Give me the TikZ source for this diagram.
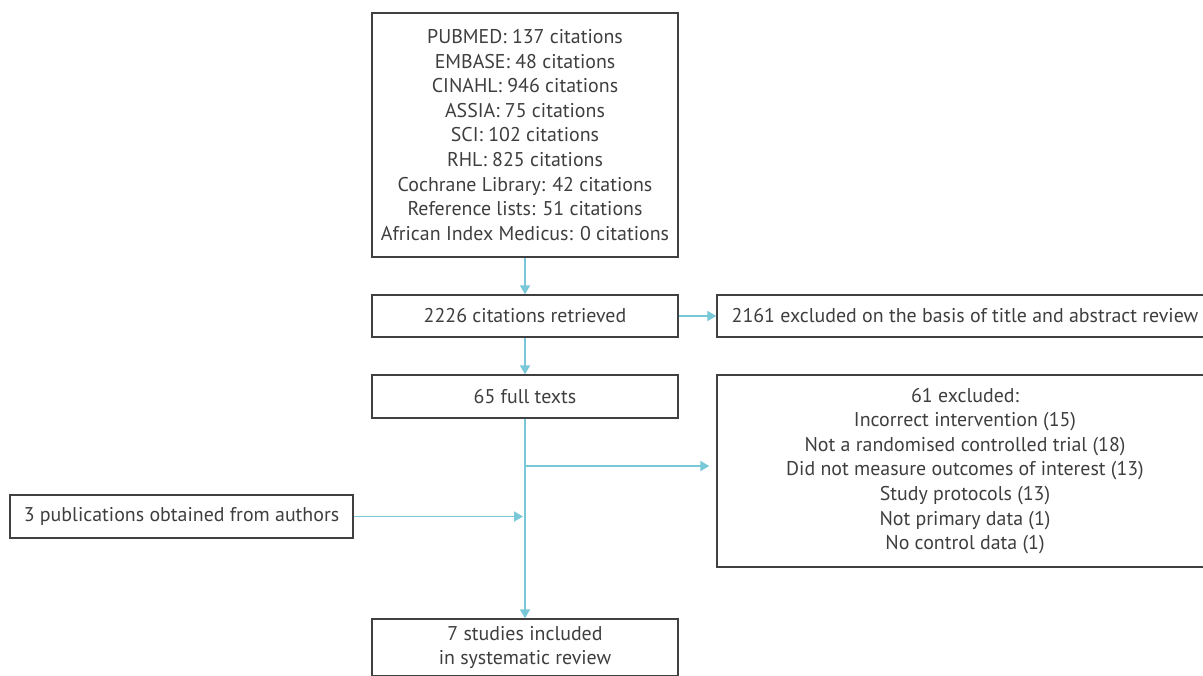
\documentclass[tikz,border=0pt]{standalone}
\usepackage{fontspec}
\setmainfont{PT Sans}
\usetikzlibrary{arrows.meta}
\definecolor{flowblue}{RGB}{120,200,216}
\definecolor{boxgray}{RGB}{64,64,64}
\definecolor{textgray}{RGB}{62,62,62}
\newcommand{\prismafont}{\fontsize{9.95}{12.3}\selectfont}

\begin{document}
\begin{tikzpicture}[x=0.5pt,y=-0.5pt,
        box/.style={draw=boxgray, line width=0.7pt, text=textgray, align=center, inner sep=0pt, font=\prismafont},
        flow/.style={draw=flowblue, line width=0.9pt, -{Triangle[length=4.5pt,width=5pt]}}]
        \useasboundingbox (0,0) rectangle (1203,675);
        \clip (0,0) rectangle (1203,675);

        % search sources
        \node[box, minimum width=153pt, minimum height=122pt] (search) at (525,135) {PUBMED: 137 citations\\EMBASE: 48 citations\\CINAHL: 946 citations\\ASSIA: 75 citations\\SCI: 102 citations\\RHL: 825 citations\\Cochrane Library: 42 citations\\Reference lists: 51 citations\\African Index Medicus: 0 citations};

        \node[box, minimum width=153pt, minimum height=21pt] (retrieved) at (525,316) {2226 citations retrieved};
        \node[box, minimum width=248pt, minimum height=21pt] (titleexcl) at (965,316) {2161 excluded on the basis of title and abstract review};

        \node[box, minimum width=153pt, minimum height=21.5pt] (fulltext) at (525,396.5) {65 full texts};
        \node[box, minimum width=248pt, minimum height=96pt] (fullexcl) at (965,471) {61 excluded:\\Incorrect intervention (15)\\Not a randomised controlled trial (18)\\Did not measure outcomes of interest (13)\\Study protocols (13)\\Not primary data (1)\\No control data (1)};

        \node[box, minimum width=171.5pt, minimum height=21.5pt] (authors) at (181.5,516.5) {3 publications obtained from authors};
        \node[box, minimum width=153pt, minimum height=28.5pt] (included) at (525,647.5) {7 studies included\\in systematic review};

        \coordinate (branch) at (525,466);

        \draw[flow] (search) -- (retrieved);
        \draw[flow] (retrieved) -- (titleexcl);
        \draw[flow] (retrieved) -- (fulltext);
        \draw[flow] (fulltext) -- (included);
        \draw[flow, shorten >=3.5pt] (branch) -- (fullexcl.west |- branch);
        \draw[flow, shorten >=1pt] (authors.east) -- (authors.east -| fulltext);
\end{tikzpicture}
\end{document}
